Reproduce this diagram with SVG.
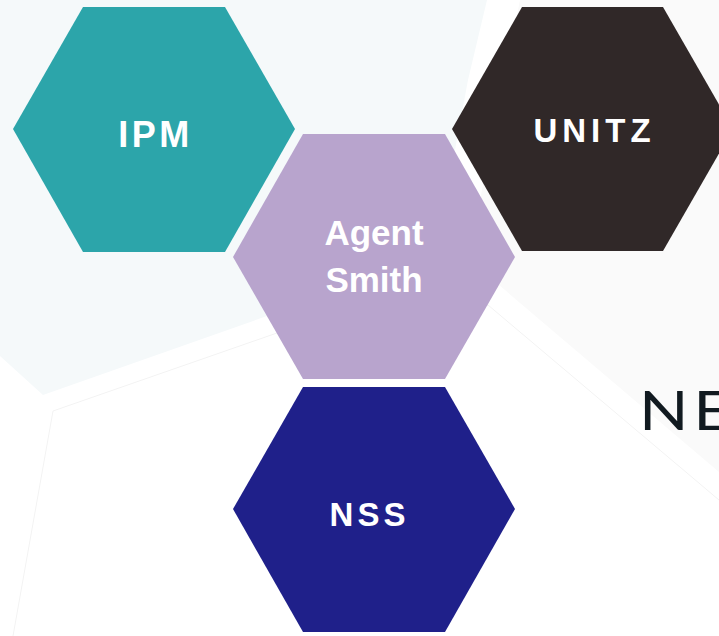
<svg xmlns="http://www.w3.org/2000/svg" width="719" height="636" viewBox="0 0 719 636">
  <style>
    .lbl { font-family: "Liberation Sans", Arial, sans-serif; font-weight: bold; fill: #ffffff; text-anchor: middle; }
    .ne { font-family: "Lato", "Liberation Sans", sans-serif; font-weight: normal; fill: #111a20; }
  </style>
  <rect x="0" y="0" width="719" height="636" fill="#ffffff"/>
  <g id="background">
    <polygon points="0,0 487,0 468,80 455,150 380,290 267,316 43,395 0,356" fill="#f5f9fa"/>
    <polygon points="520,0 719,0 719,472 499,285 480,200" fill="#fafafa"/>
    <polyline points="13,636 53,411 277,333 488,305 719,500" fill="none" stroke="#f3f3f3" stroke-width="1"/>
    <text class="ne" transform="translate(639,430) scale(1.18,1)" x="0" y="0" font-size="55" letter-spacing="4">NE</text>
  </g>
  <g id="connectors"></g>
  <g id="ipm">
    <polygon points="83,7 225,7 295,129 225,252 83,252 13,129" fill="#2ca5aa"/>
    <text class="lbl" x="155.5" y="147" font-size="36" letter-spacing="3.5">IPM</text>
  </g>
  <g id="unitz">
    <polygon points="522,7 663,7 733,129 663,251 522,251 452,129" fill="#302828"/>
    <text class="lbl" x="594.5" y="142" font-size="33" letter-spacing="5">UNITZ</text>
  </g>
  <g id="agent-smith">
    <polygon points="303,134 445,134 515,257 445,379 303,379 233,257" fill="#b8a4cd"/>
    <text class="lbl" x="374" y="245" font-size="35">Agent</text>
    <text class="lbl" x="374" y="292" font-size="35">Smith</text>
  </g>
  <g id="nss">
    <polygon points="303,387 445,387 515,509 445,632 303,632 233,509" fill="#1f208a"/>
    <text class="lbl" x="369.5" y="526" font-size="33" letter-spacing="4">NSS</text>
  </g>
</svg>
